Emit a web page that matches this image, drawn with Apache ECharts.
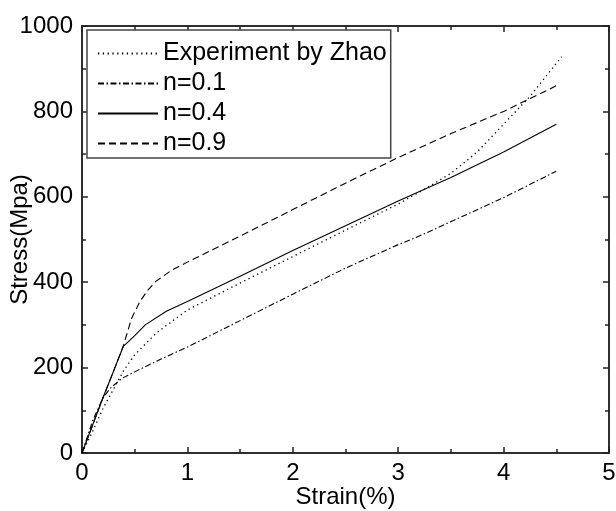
<!DOCTYPE html>
<html>
<head>
<meta charset="utf-8">
<script src="https://cdn.jsdelivr.net/npm/echarts@6/dist/echarts.min.js"></script>
<style>
  html, body { margin: 0; padding: 0; background: #fff; }
  #chart { width: 616px; height: 511px; }
</style>
</head>
<body>
<div id="chart"></div>
<script>
var xTicks = [0, 1, 2, 3, 4, 5];
var yTicks = [0, 200, 400, 600, 800, 1000];

// strain (%) / stress (MPa)
var zhaoStrain = [0, 0.1, 0.2, 0.3, 0.4, 0.5, 0.7, 1.0, 1.5, 2.0, 2.5, 3.0, 3.3, 3.5, 3.75, 4.0, 4.25, 4.55];
var zhaoStress = [0, 50, 105, 150, 195, 230, 280, 335, 398, 460, 522, 583, 625, 655, 705, 770, 835, 928];

var n01Strain = [0, 0.1, 0.2, 0.27, 0.38, 0.5, 0.75, 1.0, 1.5, 2.0, 2.5, 3.0, 3.2, 3.6, 4.0, 4.5];
var n01Stress = [0, 75, 130, 152, 175, 190, 220, 248, 310, 372, 433, 488, 508, 553, 598, 660];

var n04Strain = [0, 0.1, 0.2, 0.3, 0.39, 0.5, 0.6, 0.8, 1.0, 1.5, 2.0, 2.5, 3.0, 3.5, 4.0, 4.5];
var n04Stress = [0, 65, 130, 192, 249, 275, 300, 332, 355, 414, 474, 532, 590, 645, 705, 770];

var n09Strain = [0, 0.1, 0.2, 0.3, 0.39, 0.47, 0.55, 0.62, 0.7, 0.85, 1.0, 1.5, 2.0, 2.5, 3.0, 3.5, 4.0, 4.5];
var n09Stress = [0, 65, 130, 192, 249, 315, 355, 380, 402, 428, 447, 508, 570, 632, 692, 748, 800, 860];

function pairs(xs, ys) {
  return xs.map(function (x, i) { return [x, ys[i]]; });
}

var chart = echarts.init(document.getElementById('chart'));
var fontFamily = 'Liberation Sans, Arial, sans-serif';

// one axis = line + inward ticks; minor ticks are a second axis with half the interval
function axis(ticks, interval, position, tickLen, showLabel) {
  return {
    type: 'value',
    position: position,
    min: ticks[0],
    max: ticks[ticks.length - 1],
    interval: interval,
    nameMoveOverlap: false,
    axisLine: { show: true, onZero: false, lineStyle: { color: '#222', width: 1.5 } },
    axisTick: { show: true, inside: true, length: tickLen, lineStyle: { color: '#222', width: 1.5 } },
    splitLine: { show: false },
    axisLabel: {
      show: showLabel, color: '#000', fontSize: 24, fontFamily: fontFamily,
      formatter: function (v) { return String(v); }
    }
  };
}

var xMain = axis(xTicks, 1, 'bottom', 6, true);
xMain.name = 'Strain(%)';
xMain.nameLocation = 'middle';
xMain.nameGap = 32;
xMain.nameTextStyle = { color: '#000', fontSize: 24, fontFamily: fontFamily };
xMain.axisLabel.margin = 8;

var yMain = axis(yTicks, 200, 'left', 6, true);
yMain.name = 'Stress(Mpa)';
yMain.nameLocation = 'middle';
yMain.nameGap = 50;
yMain.nameTextStyle = { color: '#000', fontSize: 24, fontFamily: fontFamily };
yMain.axisLabel.margin = 9;

var option = {
  backgroundColor: '#fff',
  animation: false,
  grid: { left: 82, right: 7, top: 26, bottom: 58, containLabel: false, outerBoundsMode: 'none' },
  legend: {
    orient: 'vertical',
    left: 87,
    top: 30,
    padding: [11, 4, 2, 10],
    itemGap: 5,
    itemWidth: 60,
    itemHeight: 14,
    borderColor: '#444',
    borderWidth: 1.5,
    backgroundColor: '#fff',
    itemStyle: { opacity: 0 },
    textStyle: { color: '#000', fontSize: 25, fontFamily: fontFamily },
    data: ['Experiment by Zhao', 'n=0.1', 'n=0.4', 'n=0.9']
  },
  xAxis: [
    xMain,
    axis(xTicks, 1, 'top', 6, false),
    axis(xTicks, 0.5, 'bottom', 4, false),
    axis(xTicks, 0.5, 'top', 4, false)
  ],
  yAxis: [
    yMain,
    axis(yTicks, 200, 'right', 6, false),
    axis(yTicks, 100, 'left', 4, false),
    axis(yTicks, 100, 'right', 4, false)
  ],
  series: [
    {
      name: 'Experiment by Zhao', type: 'line', symbol: 'none', color: '#000',
      lineStyle: { color: '#000', width: 1.3, type: [1.3, 3.5] },
      data: pairs(zhaoStrain, zhaoStress)
    },
    {
      name: 'n=0.1', type: 'line', symbol: 'none', color: '#000',
      lineStyle: { color: '#000', width: 1.1, type: [6, 2.5, 1.5, 2.5] },
      data: pairs(n01Strain, n01Stress)
    },
    {
      name: 'n=0.4', type: 'line', symbol: 'none', color: '#000',
      lineStyle: { color: '#000', width: 1.1, type: 'solid' },
      data: pairs(n04Strain, n04Stress)
    },
    {
      name: 'n=0.9', type: 'line', symbol: 'none', color: '#000',
      lineStyle: { color: '#000', width: 1.1, type: [7, 4] },
      data: pairs(n09Strain, n09Stress)
    }
  ]
};

chart.setOption(option);
</script>
</body>
</html>
